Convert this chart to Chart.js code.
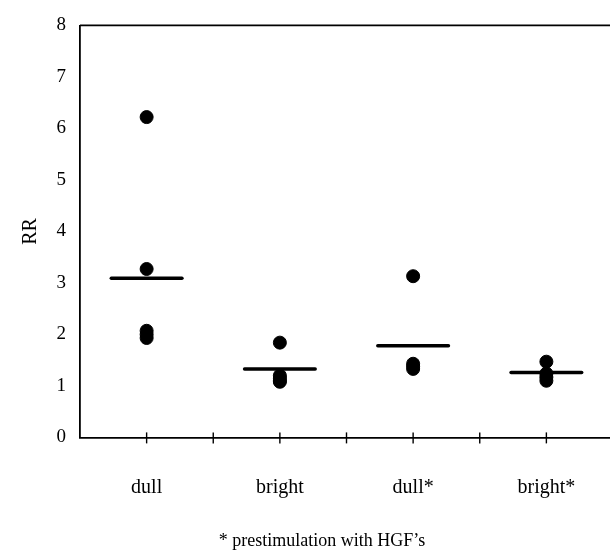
<!DOCTYPE html>
<html>
<head>
<meta charset="utf-8">
<script src="https://cdn.jsdelivr.net/npm/chart.js@4/dist/chart.umd.min.js"></script>
<style>
  html, body { margin: 0; padding: 0; background: #fff; width: 610px; height: 556px; overflow: hidden; }
  #wrap { width: 644px; height: 556px; }
</style>
</head>
<body>
<div id="wrap"><canvas id="rrChart"></canvas></div>
<script>
// groups along the x axis (placed at 1, 3, 5, 7)
const categories = ["dull", "bright", "dull*", "bright*"];
const categoryPos = [1, 3, 5, 7];

// RR values per group
const dullValues = [6.22, 3.27, 2.07, 2.0, 1.93];
const brightValues = [1.84, 1.2, 1.15, 1.1, 1.08];
const dullStarValues = [3.13, 1.43, 1.38, 1.33];
const brightStarValues = [1.47, 1.24, 1.17, 1.1];

// horizontal mean bars
const means = [3.09, 1.33, 1.78, 1.26];

const yTicks = [0, 1, 2, 3, 4, 5, 6, 7, 8];
const footnote = "* prestimulation with HGF\u2019s";

window.onload = function () {
  const ctx = document.getElementById("rrChart").getContext("2d");
  const serif = "'Liberation Serif', 'Times New Roman', serif";

  const groups = [dullValues, brightValues, dullStarValues, brightStarValues];
  const points = [];
  groups.forEach((vals, i) => {
    vals.forEach((v) => points.push({ x: categoryPos[i], y: v }));
  });

  const halfBar = 0.53;
  const meanSets = means.map((m, i) => ({
    type: "line",
    data: [
      { x: categoryPos[i] - halfBar, y: m },
      { x: categoryPos[i] + halfBar, y: m },
    ],
    borderColor: "#000",
    borderWidth: 3.5,
    borderCapStyle: "round",
    pointRadius: 0,
    fill: false,
  }));

  // top frame line + tick marks crossing the x axis
  const frame = {
    id: "frame",
    afterDraw(chart) {
      const c = chart.ctx;
      const area = chart.chartArea;
      const xs = chart.scales.x;
      c.save();
      c.strokeStyle = "#000";
      c.lineWidth = 1.8;
      c.beginPath();
      c.moveTo(area.left, area.top);
      c.lineTo(area.right, area.top);
      c.stroke();
      c.lineWidth = 1.4;
      for (let v = 1; v <= 7; v++) {
        const px = xs.getPixelForValue(v);
        c.beginPath();
        c.moveTo(px, area.bottom - 5);
        c.lineTo(px, area.bottom + 6);
        c.stroke();
      }
      c.restore();
    },
  };

  new Chart(ctx, {
    type: "scatter",
    data: {
      datasets: [
        {
          data: points,
          backgroundColor: "#000",
          borderColor: "#000",
          pointRadius: 6.5,
          pointHoverRadius: 6.5,
        },
        ...meanSets,
      ],
    },
    options: {
      responsive: true,
      maintainAspectRatio: false,
      animation: false,
      layout: { padding: { top: 24, right: 0, left: 0, bottom: 4 } },
      plugins: {
        legend: { display: false },
        tooltip: { enabled: false },
        title: {
          display: true,
          position: "bottom",
          text: footnote,
          color: "#000",
          font: { family: serif, size: 18, weight: "normal" },
          padding: { top: 0, bottom: 0 },
        },
      },
      scales: {
        x: {
          type: "linear",
          min: 0,
          max: 8,
          afterFit: (scale) => {
            scale.height = 93;
            scale.paddingLeft = 0;
            scale.paddingRight = 0;
          },
          border: { display: true, color: "#000", width: 1.8 },
          grid: { display: false, drawTicks: false },
          ticks: {
            stepSize: 1,
            autoSkip: false,
            maxRotation: 0,
            padding: 38,
            color: "#000",
            font: { family: serif, size: 20 },
            callback: (v) => {
              const i = categoryPos.indexOf(v);
              return i >= 0 ? categories[i] : "";
            },
          },
        },
        y: {
          min: 0,
          max: 8,
          afterFit: (scale) => { scale.width = 80; },
          afterBuildTicks: (scale) => {
            scale.ticks = yTicks.map((v) => ({ value: v }));
          },
          border: { display: true, color: "#000", width: 1.8 },
          grid: { display: false, drawTicks: false },
          ticks: {
            padding: 14,
            color: "#000",
            font: { family: serif, size: 19 },
          },
          title: {
            display: true,
            text: "RR",
            color: "#000",
            font: { family: serif, size: 20 },
            padding: { top: 19, bottom: 0 },
          },
        },
        // empty right-hand axis that only reserves the off-screen strip
        yRight: {
          position: "right",
          min: 0,
          max: 8,
          afterFit: (scale) => { scale.width = 31; },
          border: { display: false },
          grid: { display: false, drawTicks: false },
          ticks: { display: false },
        },
      },
    },
    plugins: [frame],
  });
};
</script>
</body>
</html>
